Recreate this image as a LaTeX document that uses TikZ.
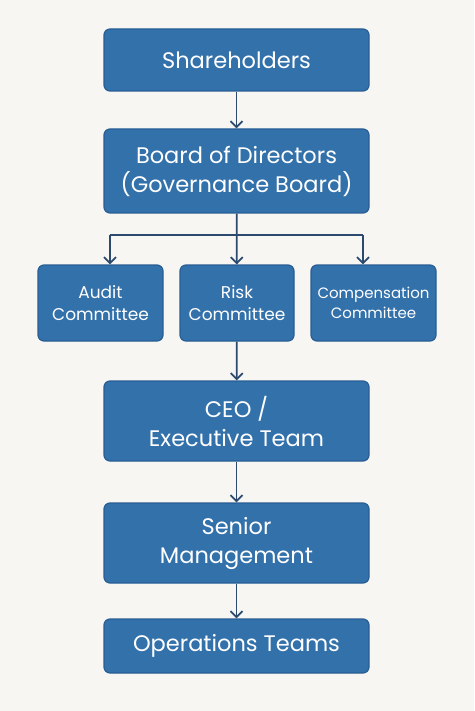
\documentclass[tikz,border=0pt]{standalone}
\usepackage{fontspec}
\setmainfont{Poppins}
\usetikzlibrary{positioning,arrows.meta}
\definecolor{boxblue}{HTML}{3371AB}
\definecolor{boxedge}{HTML}{285E94}
\definecolor{linkblue}{HTML}{2C4A6E}
\definecolor{paper}{HTML}{F7F6F3}

\begin{document}
\begin{tikzpicture}[x=1pt,y=-1pt]
    \tikzset{
        box/.style={draw=boxedge, line width=1.2pt, fill=boxblue, rounded corners=6pt,
            text=white, align=center, inner sep=0pt, minimum width=265pt,
            font=\fontsize{22.5}{29}\selectfont},
        cbox/.style={box, minimum height=76pt, font=\fontsize{17}{22}\selectfont},
        link/.style={draw=linkblue, line width=1.8pt, -{Straight Barb[length=6pt,width=12pt]}},}
    \fill [paper] (0,0) rectangle (474,711);
    \node [box, minimum height=62pt] (share) at (236.5,60) {Shareholders};
    \node [box, minimum height=84pt] (board) at (236.5,171) {Board of Directors\\(Governance Board)};
    \node [cbox, minimum width=125pt] (audit) at (100.5,303) {Audit\\Committee};
    \node [cbox, minimum width=114pt] (risk) at (237,303) {Risk\\Committee};
    \node [cbox, minimum width=125pt, font=\fontsize{15}{20}\selectfont] (comp) at (373.5,303) {Compensation\\Committee};
    \node [box, minimum height=80pt] (ceo) at (236.5,421) {CEO /\\Executive Team};
    \node [box, minimum height=80pt] (senior) at (236.5,543) {Senior\\Management};
    \node [box, minimum height=54pt] (ops) at (236.5,646) {Operations Teams};
    \coordinate (split) at (236.5,235);
    \coordinate (lt) at (110,235);
    \coordinate (rt) at (363,235);
    \draw [link] (share) -- (board);
    \draw [link] (board) -- (risk);
    \draw [link, -] (lt) -- (rt);
    \draw [link] (lt) -- (lt |- audit.north);
    \draw [link] (rt) -- (rt |- comp.north);
    \draw [link] (risk) -- (ceo);
    \draw [link] (ceo) -- (senior);
    \draw [link] (senior) -- (ops);
\end{tikzpicture}
\end{document}
